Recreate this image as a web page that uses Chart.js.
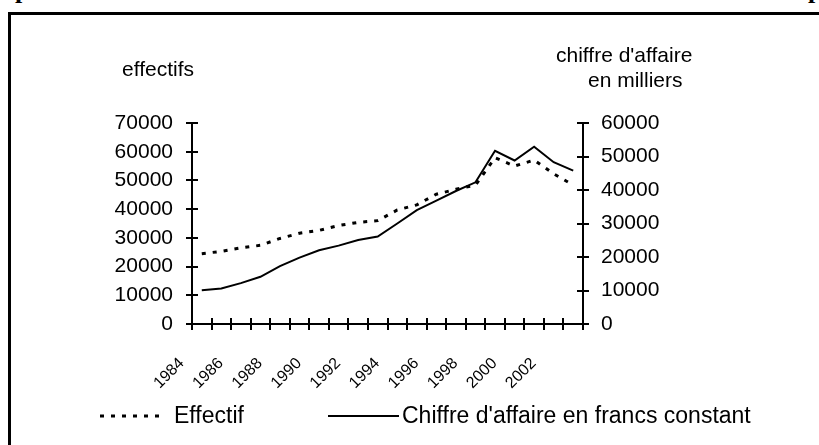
<!DOCTYPE html>
<html>
<head>
<meta charset="utf-8">
<script src="https://cdn.jsdelivr.net/npm/chart.js@4.4.1/dist/chart.umd.min.js"></script>
<style>
  html, body { margin: 0; padding: 0; background: #fff; width: 819px; height: 445px; overflow: hidden; }
  .frame { position: absolute; left: 8px; top: 12px; right: -20px; bottom: -20px; border-top: 3px solid #000; border-left: 3px solid #000; }
  .cut { position: absolute; top: -25px; font: bold 26px "Liberation Serif", serif; color: #000; }
  #chart { position: absolute; left: 0; top: 0; }
</style>
</head>
<body>
<span class="cut" style="left:15px">p</span>
<span class="cut" style="left:808px">p</span>
<div class="frame"></div>
<canvas id="chart" width="819" height="445"></canvas>
<script>
const years = ['1984', '1985', '1986', '1987', '1988', '1989', '1990', '1991', '1992', '1993',
               '1994', '1995', '1996', '1997', '1998', '1999', '2000', '2001', '2002', '2003'];
const effectif = [24500, 25300, 26500, 27400, 29800, 31600, 32600, 34300, 35400, 36000,
                  39700, 41500, 45200, 46900, 48400, 57900, 55000, 57100, 52300, 48400];
const chiffreAffaire = [10100, 10600, 12200, 14100, 17300, 19800, 22000, 23400, 25100, 26100,
                        30000, 34000, 36800, 39700, 42300, 51700, 48800, 52900, 48300, 45800];
const leftTicks = { min: 0, max: 70000, step: 10000 };
const rightTicks = { min: 0, max: 60000, step: 10000 };

const FONT = '"Liberation Sans", Arial, sans-serif';

// Excel-style ticks that cross the axes: Chart.js draws the outer half, this draws the inner half
const crossTicks = {
    id: 'crossTicks',
    afterDraw(chart) {
        const {ctx, chartArea, scales} = chart;
        ctx.save();
        ctx.strokeStyle = '#000';
        ctx.lineWidth = 2;
        ctx.beginPath();
        scales.y.ticks.forEach((t, i) => {
            const y = Math.round(scales.y.getPixelForTick(i));
            ctx.moveTo(chartArea.left, y);
            ctx.lineTo(chartArea.left + 6, y);
        });
        scales.y1.ticks.forEach((t, i) => {
            const y = Math.round(scales.y1.getPixelForTick(i));
            ctx.moveTo(chartArea.right, y);
            ctx.lineTo(chartArea.right - 6, y);
        });
        const n = scales.x.ticks.length;
        const w = chartArea.width / n;
        for (let i = 0; i <= n; i++) {
            const x = Math.round(chartArea.left + i * w);
            ctx.moveTo(x, chartArea.bottom);
            ctx.lineTo(x, chartArea.bottom - 6);
        }
        ctx.stroke();
        ctx.restore();
    }
};

// axis captions above the two y axes and the legend along the bottom
const captions = {
    id: 'captions',
    afterDraw(chart) {
        const {ctx} = chart;
        ctx.save();
        ctx.fillStyle = '#000';
        ctx.font = '21px ' + FONT;
        ctx.textBaseline = 'middle';
        ctx.textAlign = 'left';
        ctx.fillText('effectifs', 122, 70);
        ctx.fillText("chiffre d'affaire", 556, 56);
        ctx.fillText('en milliers', 588, 81);

        ctx.font = '23px ' + FONT;
        const ly = 416;
        const items = [
            { ds: chart.data.datasets[0], x0: 100, x1: 166, tx: 174 },
            { ds: chart.data.datasets[1], x0: 328, x1: 399, tx: 402 }
        ];
        items.forEach(({ds, x0, x1, tx}) => {
            ctx.save();
            ctx.strokeStyle = ds.borderColor;
            ctx.lineWidth = ds.borderWidth;
            ctx.setLineDash(ds.borderDash || []);
            ctx.beginPath();
            ctx.moveTo(x0, ly);
            ctx.lineTo(x1, ly);
            ctx.stroke();
            ctx.restore();
            ctx.fillText(ds.label, tx, ly + 1);
        });
        ctx.restore();
    }
};

const plain = (v) => String(v);

new Chart(document.getElementById('chart'), {
    type: 'line',
    data: {
        labels: years,
        datasets: [{
            label: 'Effectif',
            data: effectif,
            yAxisID: 'y',
            borderColor: '#000',
            borderWidth: 3,
            borderDash: [4, 7],
            pointRadius: 0,
            tension: 0
        }, {
            label: "Chiffre d'affaire en francs constant",
            data: chiffreAffaire,
            yAxisID: 'y1',
            borderColor: '#000',
            borderWidth: 2,
            pointRadius: 0,
            tension: 0
        }]
    },
    options: {
        responsive: false,
        animation: false,
        layout: { padding: { top: 123, left: 0, right: 0, bottom: 0 } },
        plugins: {
            legend: { display: false },
            tooltip: { enabled: false }
        },
        scales: {
            x: {
                offset: true,
                grid: { offset: true, drawOnChartArea: false, tickLength: 6, color: '#000', lineWidth: 2 },
                border: { color: '#000', width: 2 },
                ticks: {
                    autoSkip: false,
                    minRotation: 45,
                    maxRotation: 45,
                    labelOffset: -20,
                    padding: 24,
                    color: '#000',
                    font: { family: FONT, size: 16 },
                    callback: function(val, i) {
                        return i % 2 === 0 ? this.getLabelForValue(val) : '';
                    }
                },
                afterFit: (scale) => { scale.height = 121; }
            },
            y: {
                position: 'left',
                min: leftTicks.min,
                max: leftTicks.max,
                grid: { drawOnChartArea: false, tickLength: 6, color: '#000', lineWidth: 2 },
                border: { color: '#000', width: 2 },
                ticks: {
                    stepSize: leftTicks.step,
                    padding: 13,
                    color: '#000',
                    font: { family: FONT, size: 21 },
                    callback: plain
                },
                afterFit: (scale) => { scale.width = 192; }
            },
            y1: {
                position: 'right',
                min: rightTicks.min,
                max: rightTicks.max,
                grid: { drawOnChartArea: false, tickLength: 6, color: '#000', lineWidth: 2 },
                border: { color: '#000', width: 2 },
                ticks: {
                    stepSize: rightTicks.step,
                    padding: 12,
                    color: '#000',
                    font: { family: FONT, size: 21 },
                    callback: plain
                },
                afterFit: (scale) => { scale.width = 236; }
            }
        }
    },
    plugins: [crossTicks, captions]
});
</script>
</body>
</html>
